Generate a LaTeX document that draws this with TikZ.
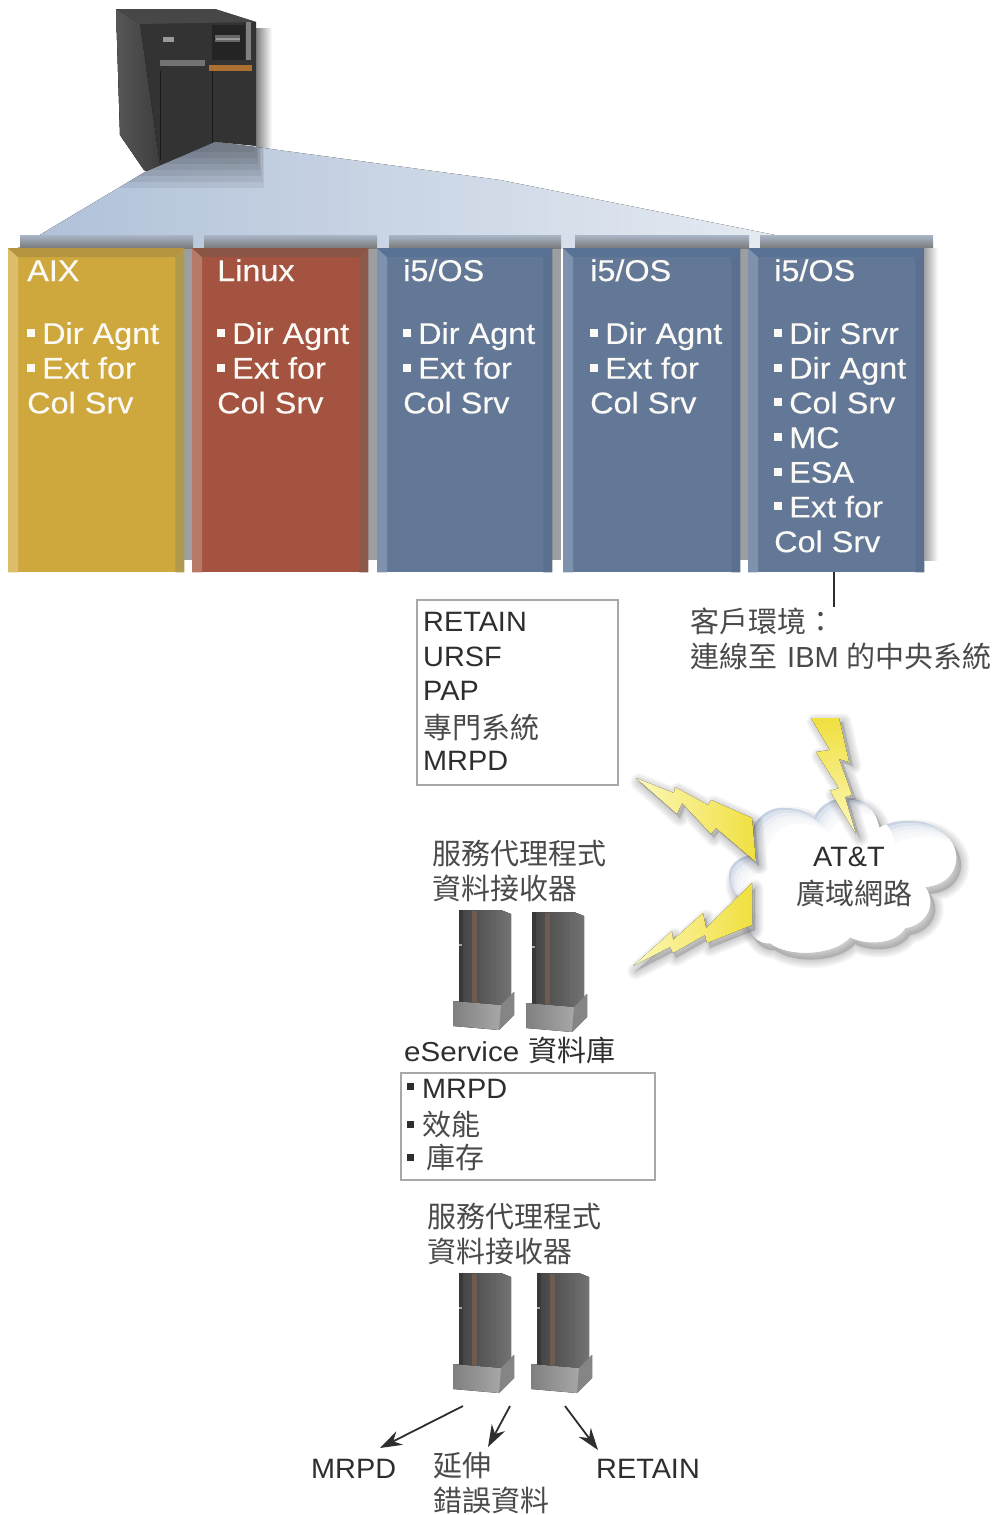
\documentclass[tikz,border=0pt]{standalone}
\usepackage{fontspec}
\setmainfont{Liberation Sans}
\newfontfamily\cjkf{Noto Sans CJK TC}
\newfontfamily\widef[FakeStretch=1.08,FakeBold=0.3]{Liberation Sans}
\newfontfamily\esf[FakeStretch=1.08]{Liberation Sans}
\newfontfamily\labf[FakeStretch=1.03]{Liberation Sans}
\usetikzlibrary{arrows.meta,calc}
\definecolor{inkc}{HTML}{2E2E2E}
\definecolor{cjkc}{HTML}{4A4A4A}
\definecolor{boxc}{HTML}{A8A8A8}
\definecolor{coltext}{HTML}{FBFAF6}
\definecolor{fanl}{HTML}{AFC0D8}
\definecolor{fanr}{HTML}{E6EBF2}
\definecolor{aixm}{HTML}{CFA83D}\definecolor{aixl}{HTML}{DCBD6A}\definecolor{aixt}{HTML}{B4943E}\definecolor{aixr}{HTML}{B09A50}
\definecolor{linm}{HTML}{A35340}\definecolor{linl}{HTML}{B87A68}\definecolor{lint}{HTML}{8A5544}\definecolor{linr}{HTML}{8C5A4A}
\definecolor{ibmm}{HTML}{627896}\definecolor{ibml}{HTML}{7E92AE}\definecolor{ibmt}{HTML}{587296}\definecolor{ibmr}{HTML}{5A708E}
\definecolor{cloudb}{HTML}{C6D1E2}
\definecolor{bolta}{HTML}{FCF7B8}\definecolor{boltb}{HTML}{F0E040}
\definecolor{stripec}{HTML}{6E5C50}
\definecolor{shadc}{HTML}{9C9EA2}
\tikzset{
  coltitle/.style={anchor=base west,inner sep=0pt,text=coltext,font=\fontsize{30}{34.7}\selectfont\widef},
  collist/.style={anchor=north west,inner sep=0pt,text=coltext,align=left,font=\fontsize{30}{34.7}\selectfont\widef},
  labeltext/.style={anchor=base west,inner sep=0pt,text=inkc,font=\fontsize{28}{35}\selectfont\labf},
  cjktext/.style={anchor=north west,inner sep=0pt,text=cjkc,align=left,font=\fontsize{29}{35}\selectfont\cjkf},
  frame/.style={draw=boxc,line width=2pt,fill=white,inner sep=0pt,anchor=north west},
  pointer/.style={draw=inkc,line width=1.8pt,-{Stealth[length=22pt,width=15pt]}},
  colbody/.style={inner sep=0pt,anchor=north west,minimum height=324pt},
}
\newcommand{\sqb}{\rule[7pt]{8pt}{8pt}\hspace{7pt}}
\newcommand{\blk}{\textcolor{inkc}{\rule[8pt]{7pt}{7pt}}\hspace{8pt}}
\newcommand{\softshadow}[3]{% path, dx, dy
  \fill[black,opacity=.16,shift={(#2,#3)}] #1;
  \foreach \k in {2,5,...,17}{\draw[black,opacity=.035,line width=\k pt,line join=round,shift={(#2,#3)}] #1;}
}
% name, x, width, main, left band, top band, right band
\newcommand{\colpanel}[7]{%
  \fill[shadc] ($(#2+12,241)$) rectangle ($(#2+#3+9,560)$);
  \fill[top color=fanl!70!shadc,bottom color=black!52] ($(#2+12,235)$) rectangle ($(#2+#3+9,248)$);
  \node[colbody,fill=#4,minimum width=#3 pt] (#1) at (#2,248) {};
  \fill[#5] (#1.north west) -- ++(10,9) -- ($(#1.south west)+(10,0)$) -- (#1.south west) -- cycle;
  \fill[#6] (#1.north west) -- (#1.north east) -- ++(-9,9) -- ($(#1.north west)+(10,9)$) -- cycle;
  \fill[#7] (#1.north east) -- (#1.south east) -- ++(-9,0) -- ++(0,-315) -- cycle;
}
\newcommand{\rackunit}[2]{%
  \begin{scope}[shift={(#1,#2)}]
    \fill[left color=black!74,right color=black!55] (0,0) -- (42,0) -- (52,4) -- (52,92) -- (40,100) -- (0,100) -- cycle;
    \fill[black!78] (0,0) rectangle (4,96);
    \fill[stripec] (13,1) rectangle (18,96);
    \fill[black!35] (0,34) rectangle (3,36);
    \draw[black!62,line width=.6pt] (36,0) -- (36,96);
    \fill[left color=black!50,right color=black!30] (-6,91) -- (42,95) -- (55,82) -- (55,105) -- (40,120) -- (-6,116) -- cycle;
    \fill[black!48] (42,95) -- (55,82) -- (55,105) -- (40,120) -- cycle;
  \end{scope}
}
\begin{document}
\begin{tikzpicture}[x=1pt,y=-1pt]
\useasboundingbox (0,0) rectangle (995,1515);
\def\cloudp{(729,876) .. controls (729,862) and (742,856) .. (752,855) .. controls (744,825) and (765,806) .. (785,808) .. controls (797,808) and (808,812) .. (814,818) .. controls (820,802) and (840,795) .. (855,799) .. controls (868,802) and (877,814) .. (879,828) .. controls (895,818) and (925,818) .. (940,830) .. controls (955,840) and (962,860) .. (950,875) .. controls (945,882) and (935,886) .. (925,887) .. controls (938,905) and (925,925) .. (905,928) .. controls (895,945) and (865,945) .. (850,937) .. controls (835,955) and (790,958) .. (770,943) .. controls (755,945) and (738,925) .. (744,899) .. controls (735,896) and (729,888) .. (729,876) -- cycle}
\def\boltA{(636,778) -- (674,793) -- (675,787) -- (708,805) -- (711,800) -- (752,818) -- (756,862) -- (716,828) -- (711,834) -- (682,803) -- (677,814) -- cycle}
\def\boltB{(633,966) -- (672,931) -- (673,940) -- (703,913) -- (706,928) -- (752,883) -- (752,925) -- (707,943) -- (705,935) -- (673,953) -- (670,947) -- cycle}
\def\boltC{(811,718) -- (839,718) -- (849,762) -- (839,759) -- (852,795) -- (845,797) -- (856,834) -- (830,791) -- (839,788) -- (816,752) -- (830,750) -- cycle}
\def\fanp{(18,248) -- (145,172) -- (215,142) -- (256,147) -- (500,180) -- (790,238) -- (790,248) -- cycle}
% ---- top server shadow
\fill[left color=black!50,right color=white] (256,28) rectangle (272,148);
% ---- server
\fill[black!80] (116,9) -- (215,9) -- (256,22) -- (256,146) -- (215,142) -- (150,172) -- (144,170) -- (120,135) -- cycle;
\fill[left color=black!66,right color=black!76] (116,9) -- (140,24) -- (160,165) -- (150,172) -- (144,170) -- (120,135) -- cycle;
\fill[black!72] (116,9) -- (215,9) -- (256,22) -- (140,24) -- cycle;
\fill[black!86] (212,25) rectangle (245,60);
\fill[black!60] (215,35) rectangle (240,42);
\fill[black!40] (216,38) rectangle (240,40);
\fill[black!50] (246,22) rectangle (251,60);
\fill[orange!60!black!80] (209,65) rectangle (252,71);
\fill[black!55] (160,60) rectangle (205,66);
\fill[black!40] (163,37) rectangle (174,42);
\draw[black!90,line width=1pt] (212,71) -- (212,146) (160,71) -- (160,160);
% ---- fan
\fill[left color=fanl,right color=fanr] \fanp;
\begin{scope}
  \clip \fanp;
  \foreach \s in {0,1,...,6}{\fill[black,opacity=.065] (120,140) rectangle (255+\s*1.5,152+\s*6);}
\end{scope}
% ---- columns
\colpanel{col1}{8}{176}{aixm}{aixl}{aixt}{aixr}
\colpanel{col2}{192}{176}{linm}{linl}{lint}{linr}
\colpanel{col3}{377}{175}{ibmm}{ibml}{ibmt}{ibmr}
\colpanel{col4}{563}{177}{ibmm}{ibml}{ibmt}{ibmr}
\colpanel{col5}{748}{176}{ibmm}{ibml}{ibmt}{ibmr}
\fill[left color=shadc,right color=white] (924,248) rectangle (938,560);
\node[coltitle] (t1) at (27,281) {AIX};
\node[coltitle] (t2) at (217,281) {Linux};
\node[coltitle] (t3) at (403,281) {i5/OS};
\node[coltitle] (t4) at (590,281) {i5/OS};
\node[coltitle] (t5) at (774,281) {i5/OS};
\node[collist] (l1) at (27,322) {\sqb Dir Agnt\\\sqb Ext for\\Col Srv};
\node[collist] (l2) at (217,322) {\sqb Dir Agnt\\\sqb Ext for\\Col Srv};
\node[collist] (l3) at (403,322) {\sqb Dir Agnt\\\sqb Ext for\\Col Srv};
\node[collist] (l4) at (590,322) {\sqb Dir Agnt\\\sqb Ext for\\Col Srv};
\node[collist] (l5) at (774,322) {\sqb Dir Srvr\\\sqb Dir Agnt\\\sqb Col Srv\\\sqb MC\\\sqb ESA\\\sqb Ext for\\Col Srv};
% ---- client label
\coordinate (lblc) at (834,607);
\draw[inkc,line width=2pt] (col5.south -| lblc) -- (lblc);
\node[cjktext] (client) at (690,608) {客戶環境：\\連線至\hspace{10pt}{\fontspec{Liberation Sans}IBM}\hspace{8pt}的中央系統};
% ---- retain box
\node[frame,minimum width=201pt,minimum height=185pt] (box1) at (416,599) {};
\node[labeltext] (r1) at (423,631) {RETAIN};
\node[labeltext] (r2) at (423,666) {URSF};
\node[labeltext] (r3) at (423,700) {PAP};
\node[cjktext] (r4) at (423,714) {專門系統};
\node[labeltext] (r5) at (423,770) {MRPD};
% ---- cloud
\softshadow{\cloudp}{5}{7}
\fill[cloudb] \cloudp;
\begin{scope}
  \clip \cloudp;
  \foreach \s in {14,11,8,5,2}{\fill[white,opacity=.4,shift={(\s,\s)}] \cloudp;}
  \fill[white,shift={(16,16)}] \cloudp;
\end{scope}
\node[labeltext,anchor=base] (att) at (849,866) {AT\&T};
\node[cjktext,anchor=north] (wan) at (854,880) {廣域網路};
% ---- bolts
\softshadow{\boltA}{3}{4}
\softshadow{\boltB}{3}{5}
\softshadow{\boltC}{4}{4}
\fill[left color=bolta,right color=boltb] \boltA;
\fill[left color=bolta,right color=boltb] \boltB;
\fill[top color=boltb,bottom color=bolta] \boltC;
% ---- upper agents
\node[cjktext] (ua) at (432,840) {服務代理程式\\資料接收器};
\rackunit{459}{910}
\rackunit{532}{912}
% ---- eService
\node[labeltext,font=\fontsize{27.4}{35}\selectfont\esf] (es) at (404,1061) {eService\hspace{9pt}{\cjkf\fontsize{29}{35}\selectfont 資料庫}};
\node[frame,minimum width=254pt,minimum height=107pt] (box2) at (400,1072) {};
\node[labeltext] (e1) at (407,1098) {\blk MRPD};
\node[cjktext] (e2) at (407,1111) {\blk 效能};
\node[cjktext] (e3) at (407,1144) {\blk\hspace{4pt}庫存};
% ---- lower agents
\node[cjktext] (la) at (427,1203) {服務代理程式\\資料接收器};
\rackunit{459}{1273}
\rackunit{537}{1273}
% ---- outputs
\node[labeltext] (o1) at (311,1478) {MRPD};
\node[cjktext] (o2) at (433,1452) {延伸\\錯誤資料};
\node[labeltext] (o3) at (596,1478) {RETAIN};
\coordinate (s1) at (463,1406);
\coordinate (s2) at (510,1406);
\coordinate (s3) at (565,1406);
\coordinate (e1c) at (380,1448);
\coordinate (e2c) at (488,1447);
\coordinate (e3c) at (598,1450);
\draw[pointer] (s1) -- (e1c);
\draw[pointer] (s2) -- (e2c);
\draw[pointer] (s3) -- (e3c);
\end{tikzpicture}
\end{document}
